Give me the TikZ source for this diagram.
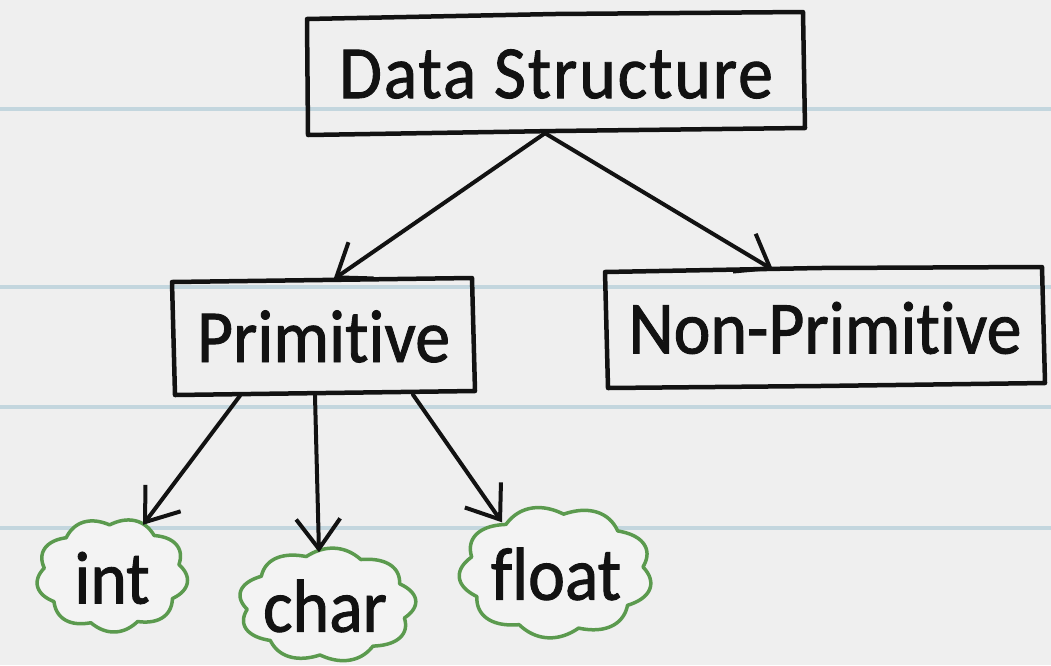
\documentclass[tikz,border=0pt]{standalone}
\usepackage{fontspec}
\setmainfont{Carlito}[FakeStretch=0.93, FakeBold=1.2, Ligatures={NoCommon}]
\usetikzlibrary{shapes.geometric,arrows.meta}
\definecolor{bg}{HTML}{EFEFEF}
\definecolor{rulecol}{HTML}{C3D6DE}
\definecolor{ink}{HTML}{121212}
\definecolor{leaf}{HTML}{5B9A4E}
\definecolor{cloudfill}{HTML}{F3F3F3}
\begin{document}
\begin{tikzpicture}[x=1pt,y=-1pt,
  txt/.style={font=\fontsize{75}{80}\selectfont, text=ink, inner sep=0pt},
  boxnode/.style={txt, rectangle, draw=none},
  boxline/.style={draw=ink, line width=4.5pt, line join=round, line cap=round},
  leafnode/.style={txt, ellipse, draw=none},
  cloudline/.style={draw=leaf, fill=cloudfill, line width=3.5pt, line join=round},
  arr/.style={draw=ink, line width=4pt, line cap=round, line join=round, -{Straight Barb[length=30pt,width=44pt,line width=4pt]}},
  ruleline/.style={draw=rulecol, line width=3.5pt}]
\useasboundingbox (0,0) rectangle (1051,665);
\fill[bg] (0,0) rectangle (1051,665);
\foreach \yy in {109,287,407,528} \draw[ruleline] (0,\yy) -- (1051,\yy);

% boxes
\node[boxnode, minimum width=497pt, minimum height=118pt] (ds) at (556,74) {\addfontfeature{LetterSpace=2.5}Data Structure};
\node[boxnode, minimum width=301pt, minimum height=114pt] (prim) at (323.5,336.5) {Primitive};
\node[boxnode, minimum width=438pt, minimum height=118pt] (np) at (825,328) {Non-Primitive};
\draw[boxline] (307,19) -- (555,14) -- (803,12) -- (805,128) -- (555,131) -- (308,135) -- cycle;
\draw[boxline] (172,282) -- (472,278) -- (475,391) -- (175,395) -- cycle;
\draw[boxline] (605,272) -- (820,268) -- (1042,267) -- (1045,383) -- (820,386) -- (608,388) -- cycle;

% cloud outlines
\draw[cloudline] plot[domain=0:360, samples=361]
  ({112+76*(0.9+0.1*abs(sin(4.5*(\x+12))))*cos(\x)}, {575+57*(0.88+0.12*abs(sin(4.5*(\x+12))))*sin(\x)}) -- cycle;
\draw[cloudline] plot[domain=0:360, samples=361]
  ({327+89*(0.9+0.1*abs(sin(4.5*(\x+25))))*cos(\x)}, {605+57*(0.88+0.12*abs(sin(4.5*(\x+25))))*sin(\x)}) -- cycle;
\draw[cloudline] plot[domain=0:360, samples=361]
  ({556+97*(0.9+0.1*abs(sin(4.5*(\x+5))))*cos(\x)}, {572+66*(0.88+0.12*abs(sin(4.5*(\x+5))))*sin(\x)}) -- cycle;

% cloud nodes
\node[leafnode, minimum width=152pt, minimum height=114pt] (int) at (112,578) {int};
\node[leafnode, minimum width=178pt, minimum height=114pt] (char) at (325,606) {char};
\node[leafnode, minimum width=194pt, minimum height=132pt] (float) at (556,574) {float};

% arrows
\draw[arr] ([shift={(-11,0)}]ds.south) -- ([shift={(10,0)}]prim.north);
\draw[arr] ([shift={(-11,0)}]ds.south) -- ([shift={(-52,1)}]np.north);
\draw[arr] ([shift={(-83.5,2)}]prim.south) -- ([shift={(31,4)}]int.north);
\draw[arr] ([shift={(-8.5,2)}]prim.south) -- ([shift={(-6,3.5)}]char.north);
\draw[arr] ([shift={(89.5,1)}]prim.south) -- ([shift={(-54,14.5)}]float.north);
\end{tikzpicture}
\end{document}
